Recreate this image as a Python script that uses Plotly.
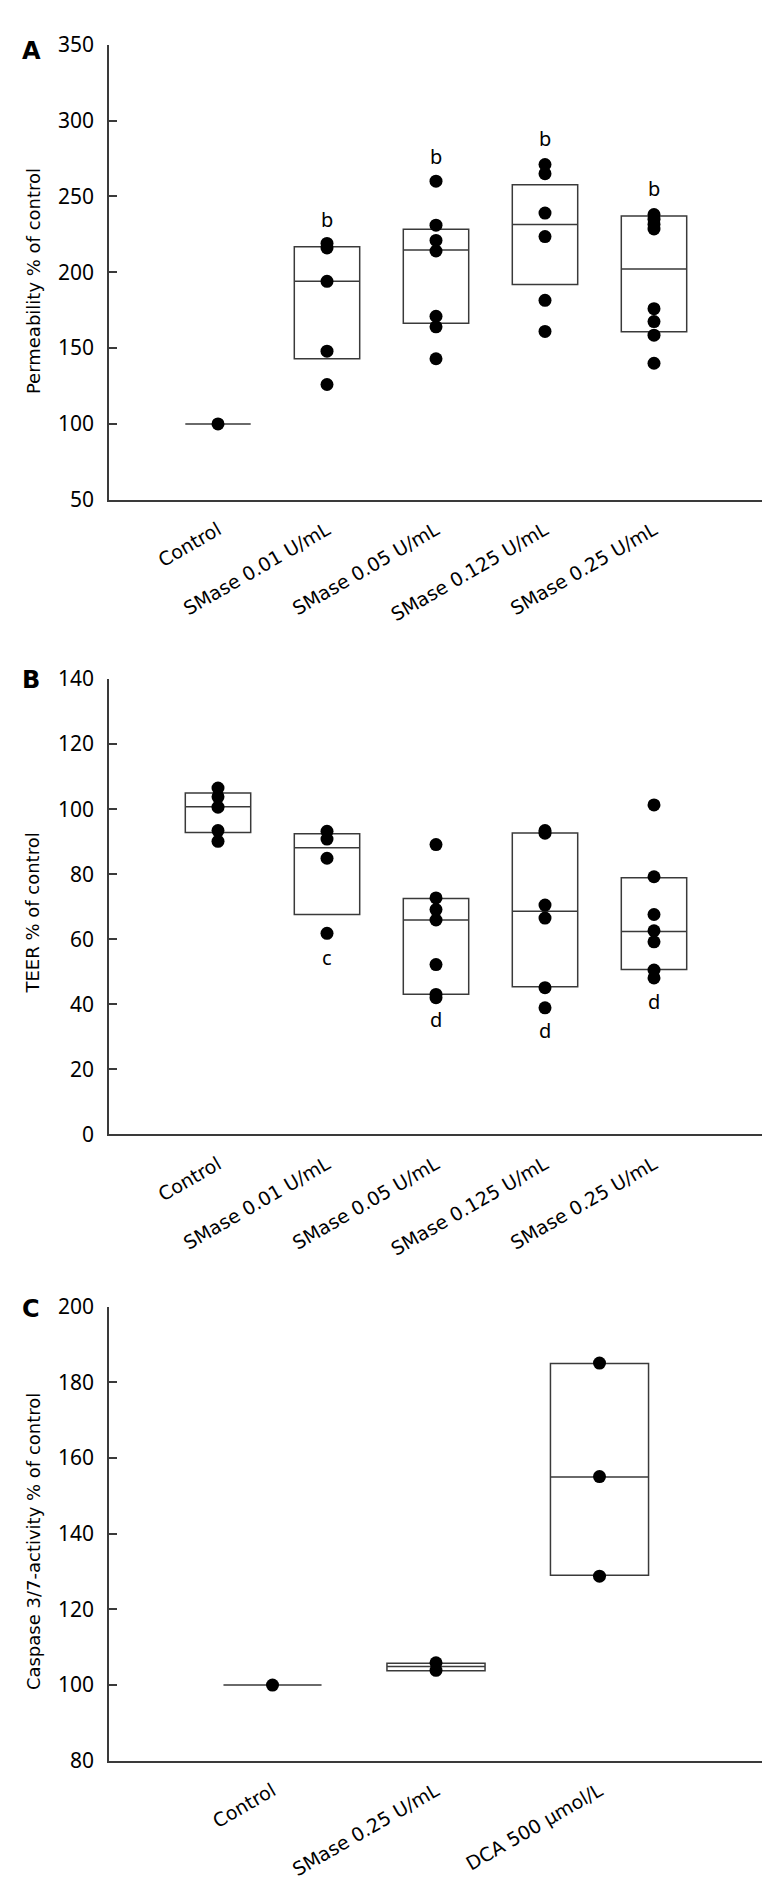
import plotly.graph_objects as go

# ---------------- data ----------------
cats_ab = ["Control", "SMase 0.01 U/mL", "SMase 0.05 U/mL", "SMase 0.125 U/mL", "SMase 0.25 U/mL"]
cats_c = ["Control", "SMase 0.25 U/mL", "DCA 500 μmol/L"]

# Panel A: permeability % of control
perm_points = [
    [100],
    [219, 216, 194, 148, 126],
    [260, 231, 221, 214, 171, 164, 143],
    [271, 265, 239, 223.5, 181.5, 161],
    [238, 235, 231.5, 228.5, 176, 167.5, 158.5, 140],
]
perm_q1 = [100, 143, 166.3, 191.9, 160.8]
perm_med = [100, 194, 214.6, 231.5, 202.2]
perm_q3 = [100, 216.8, 228.3, 257.7, 237]
perm_sig = ["", "b", "b", "b", "b"]
perm_sig_y = [None, 235, 276, 288, 255]

# Panel B: TEER % of control
teer_points = [
    [106.5, 103.8, 100.6, 93.4, 90.1],
    [93.2, 90.8, 84.9, 61.8],
    [89.1, 72.7, 69.1, 65.9, 52.2, 43.0, 42.0],
    [93.4, 92.6, 70.5, 66.5, 45.1, 38.9],
    [101.3, 79.2, 67.6, 62.6, 59.2, 50.5, 48.1],
]
teer_q1 = [92.8, 67.6, 43.1, 45.4, 50.7]
teer_med = [100.7, 88.1, 65.9, 68.6, 62.4]
teer_q3 = [105, 92.4, 72.5, 92.7, 78.9]
teer_sig = ["", "c", "d", "d", "d"]
teer_sig_y = [None, 54.5, 35.2, 31.8, 40.9]

# Panel C: caspase 3/7 activity % of control
casp_points = [
    [100],
    [105.9, 103.9],
    [185.1, 155.1, 128.8],
]
casp_q1 = [100, 103.8, 129.0]
casp_med = [100, 104.9, 155.0]
casp_q3 = [100, 105.8, 185.0]

# ---------------- style ----------------
W, H = 770, 1886
LINE = "#3a3a3a"
FONT = "Verdana, DejaVu Sans, sans-serif"
NUMFONT = "Tahoma, Noto Sans, DejaVu Sans, sans-serif"

def px_x(p):
    return p / W

def px_y(p):
    return 1 - p / H

x_dom = [px_x(101), px_x(755)]
dom_a = [px_y(484), px_y(22)]
dom_b = [px_y(1128), px_y(666)]
dom_c = [px_y(1764), px_y(1303)]

fig = go.Figure()

def add_panel(points, q1, med, q3, xa, ya):
    n = len(points)
    pos = list(range(n))
    fig.add_trace(go.Box(
        x=pos, q1=q1, median=med, q3=q3, lowerfence=q1, upperfence=q3,
        width=0.6, fillcolor="rgba(255,255,255,0)",
        line=dict(color=LINE, width=1.5), boxpoints=False,
        showlegend=False, xaxis=xa, yaxis=ya, hoverinfo="skip",
    ))
    xs, ys = [], []
    for i, vals in enumerate(points):
        for v in vals:
            xs.append(i)
            ys.append(v)
    fig.add_trace(go.Scatter(
        x=xs, y=ys, mode="markers",
        marker=dict(color="black", size=13),
        showlegend=False, xaxis=xa, yaxis=ya, hoverinfo="skip",
    ))

add_panel(perm_points, perm_q1, perm_med, perm_q3, "x", "y")
add_panel(teer_points, teer_q1, teer_med, teer_q3, "x2", "y2")
add_panel(casp_points, casp_q1, casp_med, casp_q3, "x3", "y3")

xcommon = dict(
    domain=x_dom, showline=True, linecolor=LINE, linewidth=1.5,
    ticks="", showgrid=False, zeroline=False, tickangle=-30,
    tickfont=dict(family=FONT, size=19, color="black"),
    ticklabelstandoff=10,
)
ycommon = dict(
    showline=True, linecolor=LINE, linewidth=1.5,
    ticks="inside", ticklen=8, tickcolor=LINE, tickwidth=1.5,
    showgrid=False, zeroline=False,
    tickfont=dict(family=NUMFONT, size=21, color="black"),
    ticklabelstandoff=9,
)

fig.update_layout(
    width=W, height=H,
    margin=dict(l=0, r=0, t=0, b=0),
    paper_bgcolor="white", plot_bgcolor="white",
    xaxis=dict(**xcommon, anchor="y", range=[-1, 5],
               tickvals=list(range(len(cats_ab))), ticktext=cats_ab),
    yaxis=dict(**ycommon, domain=dom_a, anchor="x", range=[50, 350], dtick=50, tick0=50),
    xaxis2=dict(**xcommon, anchor="y2", range=[-1, 5],
                tickvals=list(range(len(cats_ab))), ticktext=cats_ab),
    yaxis2=dict(**ycommon, domain=dom_b, anchor="x2", range=[0, 140], dtick=20, tick0=0),
    xaxis3=dict(**xcommon, anchor="y3", range=[-1, 3],
                tickvals=list(range(len(cats_c))), ticktext=cats_c),
    yaxis3=dict(**ycommon, domain=dom_c, anchor="x3", range=[80, 200], dtick=20, tick0=80),
)

ann = []
# significance letters
for i, (s, yv) in enumerate(zip(perm_sig, perm_sig_y)):
    if s:
        ann.append(dict(x=i, y=yv, xref="x", yref="y", text=s, showarrow=False,
                        font=dict(family=NUMFONT, size=20, color="black")))
for i, (s, yv) in enumerate(zip(teer_sig, teer_sig_y)):
    if s:
        ann.append(dict(x=i, y=yv, xref="x2", yref="y2", text=s, showarrow=False,
                        font=dict(family=NUMFONT, size=20, color="black")))

# axis titles
titles = [("Permeability % of control", 262), ("TEER % of control", 904),
          ("Caspase 3/7-activity % of control", 1542)]
for t, yc in titles:
    ann.append(dict(x=px_x(25), y=px_y(yc), xref="paper", yref="paper", text=t,
                    textangle=-90, showarrow=False, xanchor="center", yanchor="middle",
                    font=dict(family=FONT, size=18, color="black")))

# panel letters
for lab, yc in [("A", 28), ("B", 667), ("C", 1305)]:
    ann.append(dict(x=px_x(23), y=px_y(yc), xref="paper", yref="paper", text="<b>%s</b>" % lab,
                    showarrow=False, xanchor="center", yanchor="middle",
                    font=dict(family=FONT, size=24, color="black")))

fig.update_layout(annotations=ann)

fig.write_html("out.html")
